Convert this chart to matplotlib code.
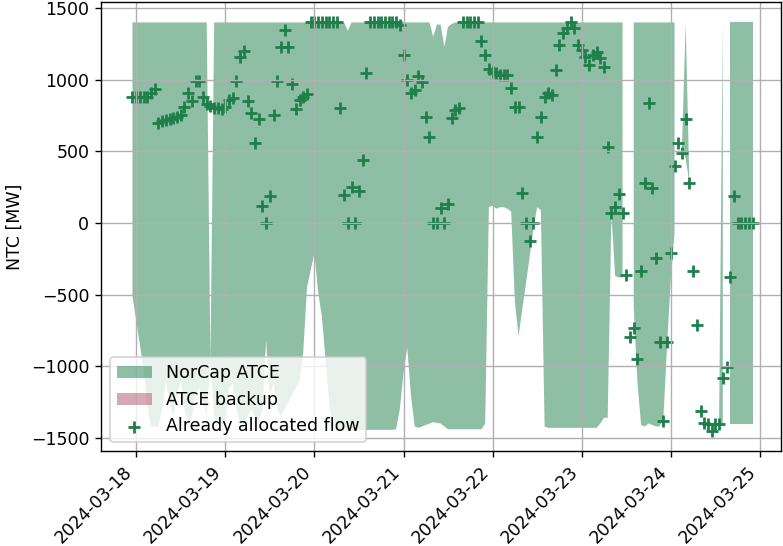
import numpy as np
import pandas as pd
import matplotlib
matplotlib.use("Agg")
import matplotlib.pyplot as plt
import matplotlib.dates as mdates

nan = np.nan

# hourly timestamps (UTC), 168 hours
start_time = "2024-03-17 23:00"
n_hours = 168
x_range = ("2024-03-17 14:39", "2024-03-25 05:40")

# NorCap ATCE upper bound [MW]
upper = [1400] * 21 + [-960] + [1400] * 36 + [1340] + [1400] * 22 + [1300, 1385, 1385, 1230, 1370, 1390] \
    + [1400] * 46 + [nan, nan] + [1400] * 12 + [nan, 530, 1400, 280] + [nan] * 7 + [-1400, 1400, nan] + [1400] * 7

# NorCap ATCE lower bound [MW]
lower = [
    -510, -680, -850, -1020, -1280, -1420, -1420, -1420, -1300, -1100,
    -1250, -1350, -1200, -1100, -1300, -1400, -1350, -1200, -1150, -1250,
    -1350, -960, -1350, -1400, -1400, -1400, -1150, -1120, -1300, -1400,
    -1400, -1350, -1300, -1350, -1400, -1300, -820, -1200, -1120, -1300,
    -1350, -1300, -1250, -1200, -1150, -1100, -900, -450, -330, -211,
    -480, -650, -950, -1250, -1444, -1444, -1444, -1444, -1444, -1444,
    -1444, -1444, -1444, -1444, -1444, -1444, -1444, -1444, -1444, -1444,
    -1444, -1440, -1300, -1050, -870, -1200, -1420, -1430, -1420, -1410,
    -1400, -1390, -1395, -1400, -1420, -1440, -1440, -1440, -1440, -1440,
    -1440, -1440, -1440, -1440, -1440, -1400, 112, 120, 100, 110,
    110, 100, 80, -550, -790, -600, -420, -230, -40, 110,
    90, -1420, -1430, -1430, -1430, -1430, -1430, -1430, -1430, -1430,
    -1430, -1430, -1430, -1430, -1430, -1430, -1400, -1360, -1360, 60,
    -370, -380, -380, nan, nan, -580, -1110, -1410, -1420, -1400,
    -1410, -1420, -1420, -1360, -850, -390, -70, nan, 530, 450,
    280, nan, nan, nan, nan, nan, nan, nan, -1400, -1400,
    nan, -1400, -1400, -1400, -1400, -1400, -1400, -1400,
]

# Already allocated flow [MW]
flow = [
    877, 877, 877, 877, 877, 905, 935, 700, 714, 719,
    723, 730, 742, 754, 812, 909, 853, 990, 990, 881,
    830, 816, 800, 800, 793, 812, 858, 870, 993, 1160,
    1202, 853, 767, 560, 725, 118, 0, 188, 754, 993,
    1230, 1347, 1230, 970, 793, 858, 881, 900, 1400, 1400,
    1400, 1400, 1400, 1400, 1400, 1400, 800, 195, 0, 253,
    0, 225, 440, 1044, 1400, 1400, 1400, 1400, 1400, 1400,
    1400, 1400, 1380, 1172, 1000, 909, 928, 1026, 986, 742,
    602, 0, 0, 102, 0, 133, 730, 790, 800, 1400,
    1400, 1400, 1400, 1400, 1272, 1172, 1072, 1056, 1044, 1033,
    1033, 1033, 940, 812, 812, 211, 0, -123, 0, 602,
    737, 877, 905, 893, 1068, 1242, 1324, 1358, 1400, 1358,
    1242, 1207, 1160, 1102, 1172, 1195, 1149, 1091, 532, 67,
    113, 200, 67, -363, -798, -735, -951, -333, 281, 840,
    242, -247, -828, -1380, -828, -207, 398, 556, 491, 723,
    281, -333, -712, -1310, -1398, -1405, -1449, -1405, -1405, -1084,
    -1002, -379, 188, 0, 0, 0, 0, 0,
]

green = "#1f7f4b"
pink = "#ad5569"

times = pd.date_range(start_time, periods=n_hours, freq="h")
upper = np.array(upper, dtype=float)
lower = np.array(lower, dtype=float)
flow = np.array(flow, dtype=float)

fig = plt.figure(figsize=(783 / 125, 546 / 125), dpi=125)
ax = fig.add_axes([0.1296, 0.174, 0.8678, 0.8223])

ax.fill_between(times, lower, upper, color=green, alpha=0.5, linewidth=0, label="NorCap ATCE")
ax.fill_between(times, np.full(n_hours, nan), np.full(n_hours, nan), color=pink, alpha=0.5,
                linewidth=0, label="ATCE backup")
ax.scatter(times, flow, marker="+", s=42, linewidths=1.6, color=green, label="Already allocated flow")

ax.set_xlim(pd.Timestamp(x_range[0]), pd.Timestamp(x_range[1]))
ax.grid(True)
ax.set_ylabel("NTC [MW]")
ax.xaxis.set_major_locator(mdates.DayLocator())
ax.xaxis.set_major_formatter(mdates.DateFormatter("%Y-%m-%d"))
plt.setp(ax.get_xticklabels(), rotation=45, ha="right")
ax.legend(loc="lower left")

fig.savefig("out.png", dpi=125)
